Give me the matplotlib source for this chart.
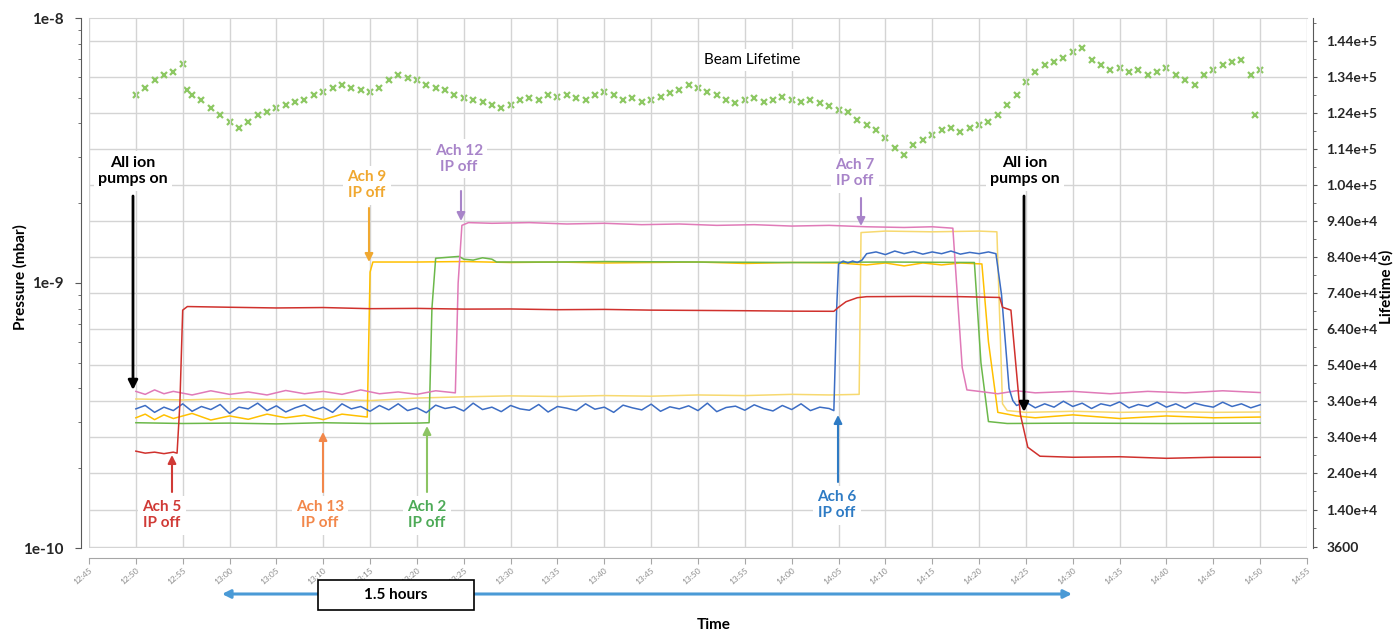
"""
Ion-pump switch-off test: arc pressures (log, left) and beam lifetime (right)
vs time of day.
"""

import numpy as np
import matplotlib.pyplot as plt
from matplotlib.ticker import FixedLocator, FixedFormatter, NullFormatter, LogLocator

plt.rcParams['font.family'] = ['Lato', 'DejaVu Sans']

# ── data: (minutes after 12:00, pressure in 1e-10 mbar) ────────────
red_ach5 = [
    (50, 2.32), (51, 2.28), (52, 2.30), (53, 2.27), (54, 2.30), (54.4, 2.28),
    (54.7, 3.5), (55.0, 7.9), (55.5, 8.15), (60, 8.1), (65, 8.05), (70, 8.08),
    (75, 8.0), (80, 8.02), (85, 7.97), (90, 7.98), (95, 7.93), (100, 7.95),
    (105, 7.9), (110, 7.88), (115, 7.86), (120, 7.83), (124.5, 7.82),
    (125.0, 8.1), (125.8, 8.5), (127, 8.8), (128, 8.88), (133, 8.9),
    (138, 8.88), (142.2, 8.82), (142.5, 8.1), (143.4, 7.9), (143.8, 5.5),
    (144.4, 3.2), (145.2, 2.4), (146.5, 2.22), (150, 2.2), (155, 2.21),
    (160, 2.18), (165, 2.2), (170, 2.2),
]
pink_ach12 = [
    (50, 3.9), (51, 3.8), (52, 3.95), (53, 3.82), (54, 3.9), (56, 3.78),
    (58, 3.92), (60, 3.8), (62, 3.88), (64, 3.78), (66, 3.93), (68, 3.82),
    (70, 3.9), (72, 3.8), (74, 3.95), (76, 3.82), (78, 3.88), (80, 3.8),
    (82, 3.92), (84.1, 3.85), (84.4, 10.0), (84.8, 16.5), (85.5, 16.9),
    (88, 16.8), (92, 16.9), (96, 16.7), (100, 16.8), (104, 16.6), (108, 16.7),
    (112, 16.5), (116, 16.6), (120, 16.4), (124, 16.5), (128, 16.3),
    (132, 16.2), (135, 16.3), (137.2, 16.1), (138.2, 4.8), (138.7, 3.95),
    (140, 3.9), (142, 3.82), (144, 3.92), (146, 3.85), (150, 3.9),
    (154, 3.82), (158, 3.9), (162, 3.85), (166, 3.92), (170, 3.86),
]
gold_ach9 = [
    (50, 3.1), (51, 3.2), (52, 3.05), (53, 3.18), (54, 3.08), (56, 3.22),
    (58, 3.04), (60, 3.15), (62, 3.06), (64, 3.2), (66, 3.1), (68, 3.17),
    (70, 3.05), (72, 3.2), (74.7, 3.12), (75.0, 11.0), (75.3, 12.0),
    (80, 12.0), (85, 12.05), (90, 11.95), (95, 12.0), (100, 11.9),
    (105, 11.95), (110, 12.0), (115, 11.85), (120, 11.95), (125, 11.9),
    (128, 11.7), (130, 11.9), (132, 11.6), (134, 11.9), (136, 11.7),
    (138, 11.9), (140.3, 11.8), (141.0, 6.0), (142.0, 3.25), (144, 3.15),
    (146, 3.1), (150, 3.18), (155, 3.08), (160, 3.15), (165, 3.1), (170, 3.12),
]
lightyellow_ach7 = [
    (50, 3.65), (55, 3.62), (60, 3.66), (65, 3.63), (70, 3.65), (75, 3.6),
    (80, 3.68), (85, 3.72), (90, 3.75), (95, 3.73), (100, 3.76), (105, 3.74),
    (110, 3.78), (115, 3.76), (120, 3.8), (124, 3.78), (127.2, 3.8),
    (127.4, 15.5), (130, 15.7), (135, 15.6), (140, 15.7), (141.9, 15.6),
    (142.5, 3.5), (143, 3.3), (145, 3.25), (150, 3.28), (155, 3.25),
    (160, 3.27), (165, 3.25), (170, 3.26),
]
green_ach2 = [
    (50, 2.97), (55, 2.95), (60, 2.96), (65, 2.94), (70, 2.97), (75, 2.95),
    (80, 2.96), (81.3, 2.97), (81.6, 8.0), (82.0, 12.4), (84.5, 12.6),
    (85, 12.3), (86, 12.2), (87, 12.45), (88, 12.3), (88.5, 12.0), (95, 12.0),
    (100, 12.05), (110, 12.0), (120, 11.95), (130, 12.0), (139.5, 11.95),
    (140.2, 5.0), (141, 3.0), (143, 2.95), (150, 2.96), (160, 2.95),
    (170, 2.96),
]
blue_ach6 = [
    (50, 3.35), (51, 3.45), (52, 3.25), (53, 3.4), (54, 3.3), (55, 3.5),
    (56, 3.28), (57, 3.42), (58, 3.33), (59, 3.48), (60, 3.22), (61, 3.4),
    (62, 3.35), (63, 3.52), (64, 3.3), (65, 3.44), (66, 3.26), (67, 3.38),
    (68, 3.47), (69, 3.3), (70, 3.4), (71, 3.25), (72, 3.5), (73, 3.35),
    (74, 3.42), (75, 3.28), (76, 3.45), (77, 3.32), (78, 3.5), (79, 3.3),
    (80, 3.38), (81, 3.24), (82, 3.46), (83, 3.36), (84, 3.41), (85, 3.29),
    (86, 3.52), (87, 3.33), (88, 3.4), (89, 3.27), (90, 3.45), (91, 3.35),
    (92, 3.31), (93, 3.48), (94, 3.26), (95, 3.42), (96, 3.37), (97, 3.3),
    (98, 3.5), (99, 3.34), (100, 3.4), (101, 3.25), (102, 3.46), (103, 3.38),
    (104, 3.32), (105, 3.49), (106, 3.28), (107, 3.41), (108, 3.35),
    (109, 3.44), (110, 3.3), (111, 3.52), (112, 3.27), (113, 3.39),
    (114, 3.43), (115, 3.31), (116, 3.47), (117, 3.36), (118, 3.29),
    (119, 3.45), (120, 3.33), (121, 3.5), (122, 3.3), (123, 3.4),
    (124, 3.36), (124.5, 3.3), (124.8, 8.0), (125.0, 11.8), (125.5, 12.1),
    (126, 11.9), (126.5, 12.1), (127, 11.95), (127.5, 12.2), (128, 12.9),
    (129, 13.1), (130, 12.8), (131, 13.2), (132, 12.9), (133, 13.15),
    (134, 12.85), (135, 13.1), (136, 12.9), (137, 13.2), (138, 12.85),
    (139, 13.05), (140, 12.9), (141, 13.1), (141.8, 12.9), (142.4, 9.0),
    (143.2, 4.0), (143.6, 3.6), (144, 3.45), (145, 3.55), (146, 3.38),
    (147, 3.5), (148, 3.4), (149, 3.58), (150, 3.42), (151, 3.52),
    (152, 3.36), (153, 3.5), (154, 3.44), (155, 3.56), (156, 3.38),
    (157, 3.48), (158, 3.42), (159, 3.55), (160, 3.4), (161, 3.5),
    (162, 3.37), (163, 3.52), (164, 3.45), (165, 3.4), (166, 3.55),
    (167, 3.42), (168, 3.5), (169, 3.38), (170, 3.47),
]

# beam lifetime: minutes after 12:00 and lifetime in 1e4 s
lifetime_t = [
    50, 51, 52, 53, 54, 55, 55.5, 56, 57, 58, 59, 60, 61, 62, 63, 64, 65, 66,
    67, 68, 69, 70, 71, 72, 73, 74, 75, 76, 77, 78, 79, 80, 81, 82, 83, 84,
    85, 86, 87, 88, 89, 90, 91, 92, 93, 94, 95, 96, 97, 98, 99, 100, 101,
    102, 103, 104, 105, 106, 107, 108, 109, 110, 111, 112, 113, 114, 115,
    116, 117, 118, 119, 120, 121, 122, 123, 124, 125, 126, 127, 128, 129,
    130, 131, 132, 133, 134, 135, 136, 137, 138, 139, 140, 141, 142, 143,
    144, 145, 146, 147, 148, 149, 150, 151, 152, 153, 154, 155, 156, 157,
    158, 159, 160, 161, 162, 163, 164, 165, 166, 167, 168, 169, 169.5, 170,
]
lifetime_val = [
    12.90, 13.10, 13.32, 13.46, 13.54, 13.76, 13.04, 12.90, 12.76, 12.54,
    12.35, 12.15, 11.99, 12.15, 12.35, 12.43, 12.54, 12.62, 12.71, 12.76,
    12.90, 12.98, 13.10, 13.18, 13.10, 13.04, 12.98, 13.10, 13.32, 13.46,
    13.37, 13.32, 13.18, 13.10, 13.04, 12.90, 12.82, 12.76, 12.71, 12.62,
    12.54, 12.62, 12.76, 12.82, 12.76, 12.90, 12.85, 12.90, 12.82, 12.76,
    12.90, 12.98, 12.90, 12.76, 12.82, 12.71, 12.76, 12.85, 12.96, 13.04,
    13.18, 13.10, 12.98, 12.90, 12.76, 12.68, 12.76, 12.82, 12.71, 12.76,
    12.85, 12.76, 12.71, 12.76, 12.68, 12.60, 12.49, 12.43, 12.21, 12.07,
    11.93, 11.71, 11.43, 11.24, 11.51, 11.65, 11.79, 11.93, 11.99, 11.87,
    11.99, 12.07, 12.15, 12.35, 12.62, 12.90, 13.26, 13.54, 13.73, 13.82,
    13.93, 14.09, 14.21, 13.87, 13.73, 13.60, 13.65, 13.54, 13.60, 13.46,
    13.54, 13.65, 13.46, 13.32, 13.18, 13.46, 13.60, 13.73, 13.82, 13.87,
    13.46, 12.35, 13.60,
]

xtick_minutes = list(range(45, 176, 5))
xtick_labels = [f"{12 + m // 60}:{m % 60:02d}" for m in xtick_minutes]

p_ticks = [1e-10, 1e-9, 1e-8]
p_labels = ["1e-10", "1e-9", "1e-8"]

life_ticks = [3600, 14000, 24000, 34000, 44000, 54000, 64000, 74000,
              84000, 94000, 104000, 114000, 124000, 134000, 144000]
life_labels = ["3600", "1.40e+4", "2.40e+4", "3.40e+4", "3.40e+4",
               "5.40e+4", "6.40e+4", "7.40e+4", "8.40e+4", "9.40e+4",
               "1.04e+5", "1.14e+5", "1.24e+5", "1.34e+5", "1.44e+5"]

series = [
    (lightyellow_ach7, '#F7D970'),
    (gold_ach9,        '#FFC000'),
    (green_ach2,       '#6CB84A'),
    (pink_ach12,       '#E07AB8'),
    (blue_ach6,        '#3C6DC4'),
    (red_ach5,         '#D0312D'),
]

# ── figure ─────────────────────────────────────────────────────────
W, H = 1397, 631
fig = plt.figure(figsize=(W / 100, H / 100), dpi=100)
ax = fig.add_axes([89 / W, 1 - 548 / H, 1218 / W, 530 / H])
ax2 = ax.twinx()
ax.set_zorder(ax2.get_zorder() + 1)
ax.patch.set_visible(False)

GRID = '#D4D4D4'
AXIS = '#595959'
TICKTXT = '#262626'

# lifetime on the right axis (drawn underneath)
ax2.plot(np.array(lifetime_t), np.array(lifetime_val) * 1e4,
         ls='none', marker='x', ms=5, mew=1.6, color='#8DC863')
ax2.set_ylim(3322, 150382)
ax2.yaxis.set_major_locator(FixedLocator(life_ticks))
ax2.yaxis.set_major_formatter(FixedFormatter(life_labels))
ax2.yaxis.set_minor_locator(FixedLocator(np.arange(9000, 150000, 10000)))
ax2.tick_params(axis='y', which='major', length=3, color=AXIS, pad=7,
                labelsize=10, labelcolor=TICKTXT)
ax2.tick_params(axis='y', which='minor', length=2, color=AXIS)
ax2.yaxis.grid(True, color=GRID, lw=1.0)
ax2.set_axisbelow(True)
ax2.spines['right'].set_position(('outward', 4))
ax2.spines['right'].set_color(AXIS)
for s in ('left', 'top', 'bottom'):
    ax2.spines[s].set_visible(False)

# pressures on the left log axis
for data, col in series:
    t, p = zip(*data)
    ax.plot(t, np.array(p) * 1e-10, color=col, lw=1.1)

ax.set_yscale('log')
ax.set_ylim(1e-10, 1e-8)
ax.set_xlim(45, 175)
ax.yaxis.set_major_locator(FixedLocator(p_ticks))
ax.yaxis.set_major_formatter(FixedFormatter(p_labels))
ax.yaxis.set_minor_locator(LogLocator(subs=np.arange(2, 10)))
ax.yaxis.set_minor_formatter(NullFormatter())
ax.tick_params(axis='y', which='major', length=4, color=AXIS, pad=8,
               labelsize=11, labelcolor=TICKTXT)
ax.tick_params(axis='y', which='minor', length=2, color=AXIS)

ax.xaxis.set_major_locator(FixedLocator(xtick_minutes))
ax.xaxis.set_major_formatter(FixedFormatter(xtick_labels))
ax.tick_params(axis='x', length=4, color='#A6A6A6', pad=2,
               labelsize=6, labelcolor='#8C8C8C', labelrotation=40)
ax.xaxis.grid(True, color=GRID, lw=1.0)
ax.set_axisbelow(True)

ax.spines['left'].set_position(('outward', 6))
ax.spines['left'].set_color(AXIS)
ax.spines['right'].set_visible(False)
ax.spines['top'].set_color(GRID)
ax.spines['bottom'].set_position(('outward', 7))
ax.spines['bottom'].set_color('#A6A6A6')


# ── annotations (positions in reference pixels) ───────────────────
def fig_xy(x, y):
    return (x / W, 1 - y / H)


def label(x, y, text, color, size=11, weight='bold'):
    fig.text(*fig_xy(x, y), text, color=color, fontsize=size,
             fontweight=weight, ha='center', va='center', linespacing=1.25,
             bbox=dict(fc='white', ec='none', pad=3))


def arrow(x, y_from, y_to, color, lw=1.5, scale=12):
    ax.annotate('', xy=(x, H - y_to), xytext=(x, H - y_from),
                xycoords='figure pixels', textcoords='figure pixels',
                arrowprops=dict(arrowstyle='-|>', color=color, lw=lw,
                                mutation_scale=scale, shrinkA=0, shrinkB=0))


label(752, 60, "Beam Lifetime", 'black', weight='normal')
label(133, 171, "All ion\npumps on", 'black', size=11.5)
label(1025, 171, "All ion\npumps on", 'black', size=11.5)
arrow(133, 196, 390, 'black', lw=2.0, scale=14)
arrow(1024, 196, 412, 'black', lw=2.0, scale=14)

label(367, 185, "Ach 9\nIP off", '#F0A830')
arrow(369, 208, 262, '#F0A830')
label(459, 159, "Ach 12\nIP off", '#A884C9')
arrow(461, 191, 221, '#A884C9')
label(855, 173, "Ach 7\nIP off", '#A884C9')
arrow(861, 198, 226, '#A884C9')

label(162, 515, "Ach 5\nIP off", '#D03A36')
arrow(172, 492, 455, '#D03A36')
label(320, 515, "Ach 13\nIP off", '#F2874A')
arrow(323, 492, 432, '#F2874A')
label(427, 515, "Ach 2\nIP off", '#4DAA57')
arrow(427, 492, 426, '#8CC463')
label(837, 505, "Ach 6\nIP off", '#2E7BC4')
arrow(838, 482, 415, '#2E7BC4')

# 1.5 hours span
ax.annotate('', xy=(222, H - 594), xytext=(1072, H - 594),
            xycoords='figure pixels', textcoords='figure pixels',
            arrowprops=dict(arrowstyle='<|-|>', color='#4A9AD6', lw=2.2,
                            mutation_scale=12, shrinkA=0, shrinkB=0))
fig.patches.append(plt.Rectangle(fig_xy(318, 610), 156 / W, 30 / H,
                                 transform=fig.transFigure, fc='white',
                                 ec='black', lw=1.2, zorder=5))
fig.text(*fig_xy(396, 595), "1.5 hours", fontsize=11, fontweight='bold',
         ha='center', va='center', zorder=6)

fig.text(*fig_xy(714, 625), "Time", fontsize=11, fontweight='bold',
         ha='center', va='center')
fig.text(*fig_xy(20, 277), "Pressure (mbar)", fontsize=11, fontweight='bold',
         ha='center', va='center', rotation=90)
fig.text(*fig_xy(1386, 287), "Lifetime (s)", fontsize=11, fontweight='bold',
         ha='center', va='center', rotation=90)

# tick label fonts last, so later tick_params calls cannot reset them
for lbl in ax.get_yticklabels() + ax2.get_yticklabels():
    lbl.set_fontweight('bold')
for lbl in ax.get_xticklabels():
    lbl.set_horizontalalignment('right')
    lbl.set_rotation_mode('anchor')

fig.savefig("out.png", dpi=100)
plt.close(fig)
